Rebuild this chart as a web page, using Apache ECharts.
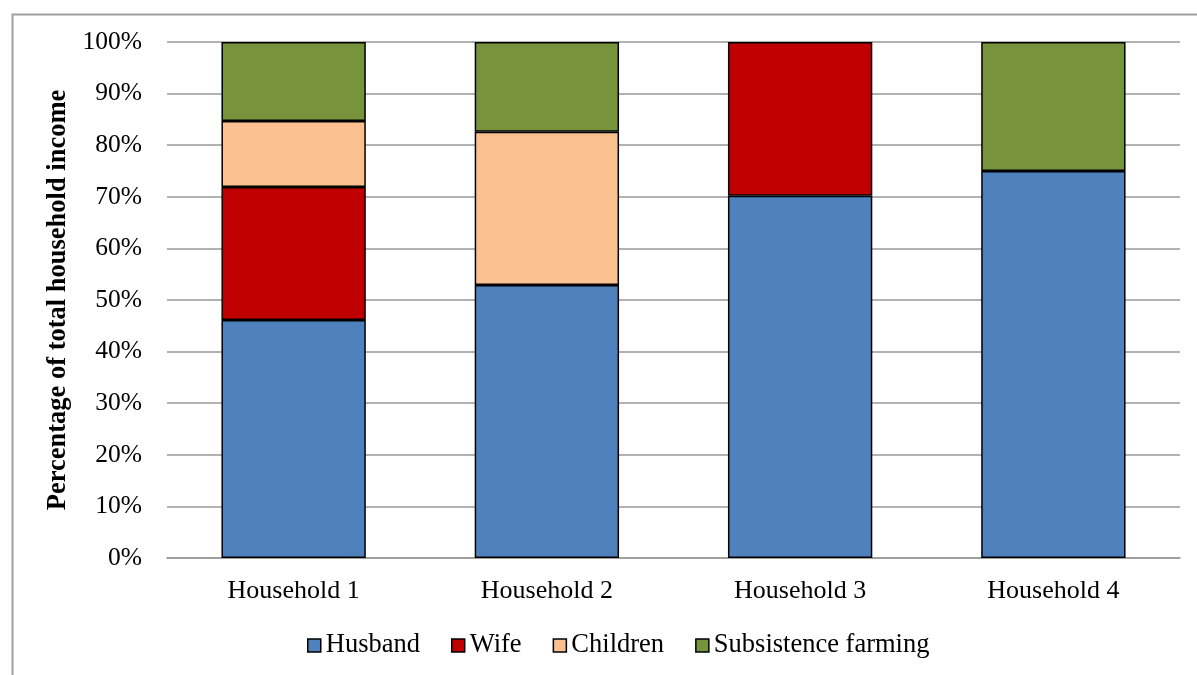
<!DOCTYPE html>
<html>
<head>
<meta charset="utf-8">
<script src="https://cdn.jsdelivr.net/npm/echarts@6/dist/echarts.min.js"></script>
<style>
  html, body { margin: 0; padding: 0; background: #fff; }
  #chart { width: 1197px; height: 675px; }
</style>
</head>
<body>
<div id="chart"></div>
<script>
// categories and shares of income (percent)
const households = ['Household 1', 'Household 2', 'Household 3', 'Household 4'];
const husband = [46.1, 52.9, 70.2, 75.0];
const wife = [25.8, null, 29.8, null];
const children = [12.8, 29.7, null, null];
const farming = [15.3, 17.4, null, 25.0];

const font = "'Liberation Serif', 'Times New Roman', serif";

function bar(name, data, color) {
    return {
        name: name,
        type: 'bar',
        stack: 'income',
        barWidth: '57%',
        data: data,
        itemStyle: { color: color, borderColor: '#000', borderWidth: 1.5 }
    };
}

let myChart = echarts.init(document.getElementById('chart'));

myChart.setOption({
    animation: false,
    textStyle: { fontFamily: font },
    // outer frame of the chart
    graphic: [{
        type: 'rect',
        left: 10, top: 12,
        shape: { width: 1200, height: 700 },
        style: { fill: 'none', stroke: '#A0A0A0', lineWidth: 2 },
        silent: true
    }],
    grid: { left: 167, right: 17, top: 42, bottom: 117 },
    legend: {
        bottom: 11,
        left: 302,
        itemWidth: 13,
        itemHeight: 13,
        itemGap: 31,
        icon: 'rect',
        itemStyle: { borderColor: '#000', borderWidth: 1.5 },
        textStyle: { fontFamily: font, fontSize: 26.5, color: '#000' },
        data: ['Husband', 'Wife', 'Children', 'Subsistence farming']
    },
    xAxis: {
        type: 'category',
        data: households,
        axisLine: { lineStyle: { color: '#999', width: 1.5 } },
        axisTick: { show: false },
        axisLabel: { color: '#000', fontSize: 26, margin: 20, fontFamily: font }
    },
    yAxis: {
        type: 'value',
        min: 0,
        max: 100,
        interval: 10,
        name: 'Percentage of total household income',
        nameLocation: 'middle',
        nameGap: 85,
        nameTextStyle: { fontSize: 26.5, fontWeight: 'bold', color: '#000', fontFamily: font },
        axisLine: { show: false },
        axisTick: { show: false },
        axisLabel: { color: '#000', fontSize: 25.5, margin: 25, fontFamily: font, formatter: '{value}%' },
        splitLine: { lineStyle: { color: '#999', width: 1.5 } }
    },
    series: [
        bar('Husband', husband, '#4F81BD'),
        bar('Wife', wife, '#C00000'),
        bar('Children', children, '#FAC090'),
        bar('Subsistence farming', farming, '#77933C')
    ]
});
</script>
</body>
</html>
